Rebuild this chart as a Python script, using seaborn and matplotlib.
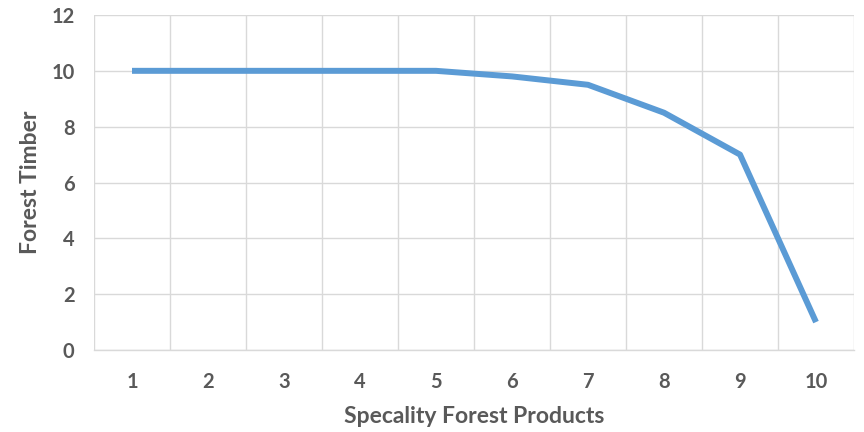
import matplotlib
matplotlib.use("Agg")
import matplotlib.pyplot as plt
import seaborn as sns
import pandas as pd
import numpy as np

categories = ["1", "2", "3", "4", "5", "6", "7", "8", "9", "10"]
timber = [10, 10, 10, 10, 10, 9.8, 9.5, 8.5, 7, 1]

sns.set_style("white")
plt.rcParams['font.family'] = ['Lato', 'DejaVu Sans']

df = pd.DataFrame({"pos": np.arange(len(categories)), "timber": timber})

fig = plt.figure(figsize=(8.64, 4.32), dpi=100)
ax = fig.add_axes([94/864, 82/432, 760/864, 335/432])
sns.lineplot(data=df, x="pos", y="timber", ax=ax, color="#5B9BD5", linewidth=4.3,
             solid_capstyle="butt")

ax.set_xlim(-0.5, len(categories) - 0.5)
ax.set_ylim(0, 12)
ax.set_yticks(range(0, 13, 2))
ax.set_xticks(np.arange(len(categories)))
ax.set_xticklabels(categories)
ax.set_xticks(np.arange(len(categories) + 1) - 0.5, minor=True)
ax.grid(False)
ax.grid(True, axis="y", which="major", color="#D9D9D9", linewidth=1)
ax.grid(True, axis="x", which="minor", color="#D9D9D9", linewidth=1)
ax.set_axisbelow(True)
for s in ["top", "right", "left"]:
    ax.spines[s].set_visible(False)
ax.spines["bottom"].set_color("#D9D9D9")
ax.spines["bottom"].set_linewidth(1)
ax.tick_params(axis="both", which="both", length=0)
ax.tick_params(axis="x", which="major", pad=16, labelsize=14.5, labelcolor="#595959")
ax.tick_params(axis="y", which="major", pad=14, labelsize=14.5, labelcolor="#595959")
for lbl in ax.get_xticklabels() + ax.get_yticklabels():
    lbl.set_fontweight("bold")

ax.set_xlabel("Specality Forest Products", fontsize=16.5, fontweight="bold", color="#595959")
ax.set_ylabel("Forest Timber", fontsize=16.5, fontweight="bold", color="#595959")
ax.xaxis.set_label_coords(0.5, -(406 - 350) / 335)
ax.yaxis.set_label_coords(-(94 - 41) / 760, 0.5)

fig.savefig("out.png", dpi=100)
